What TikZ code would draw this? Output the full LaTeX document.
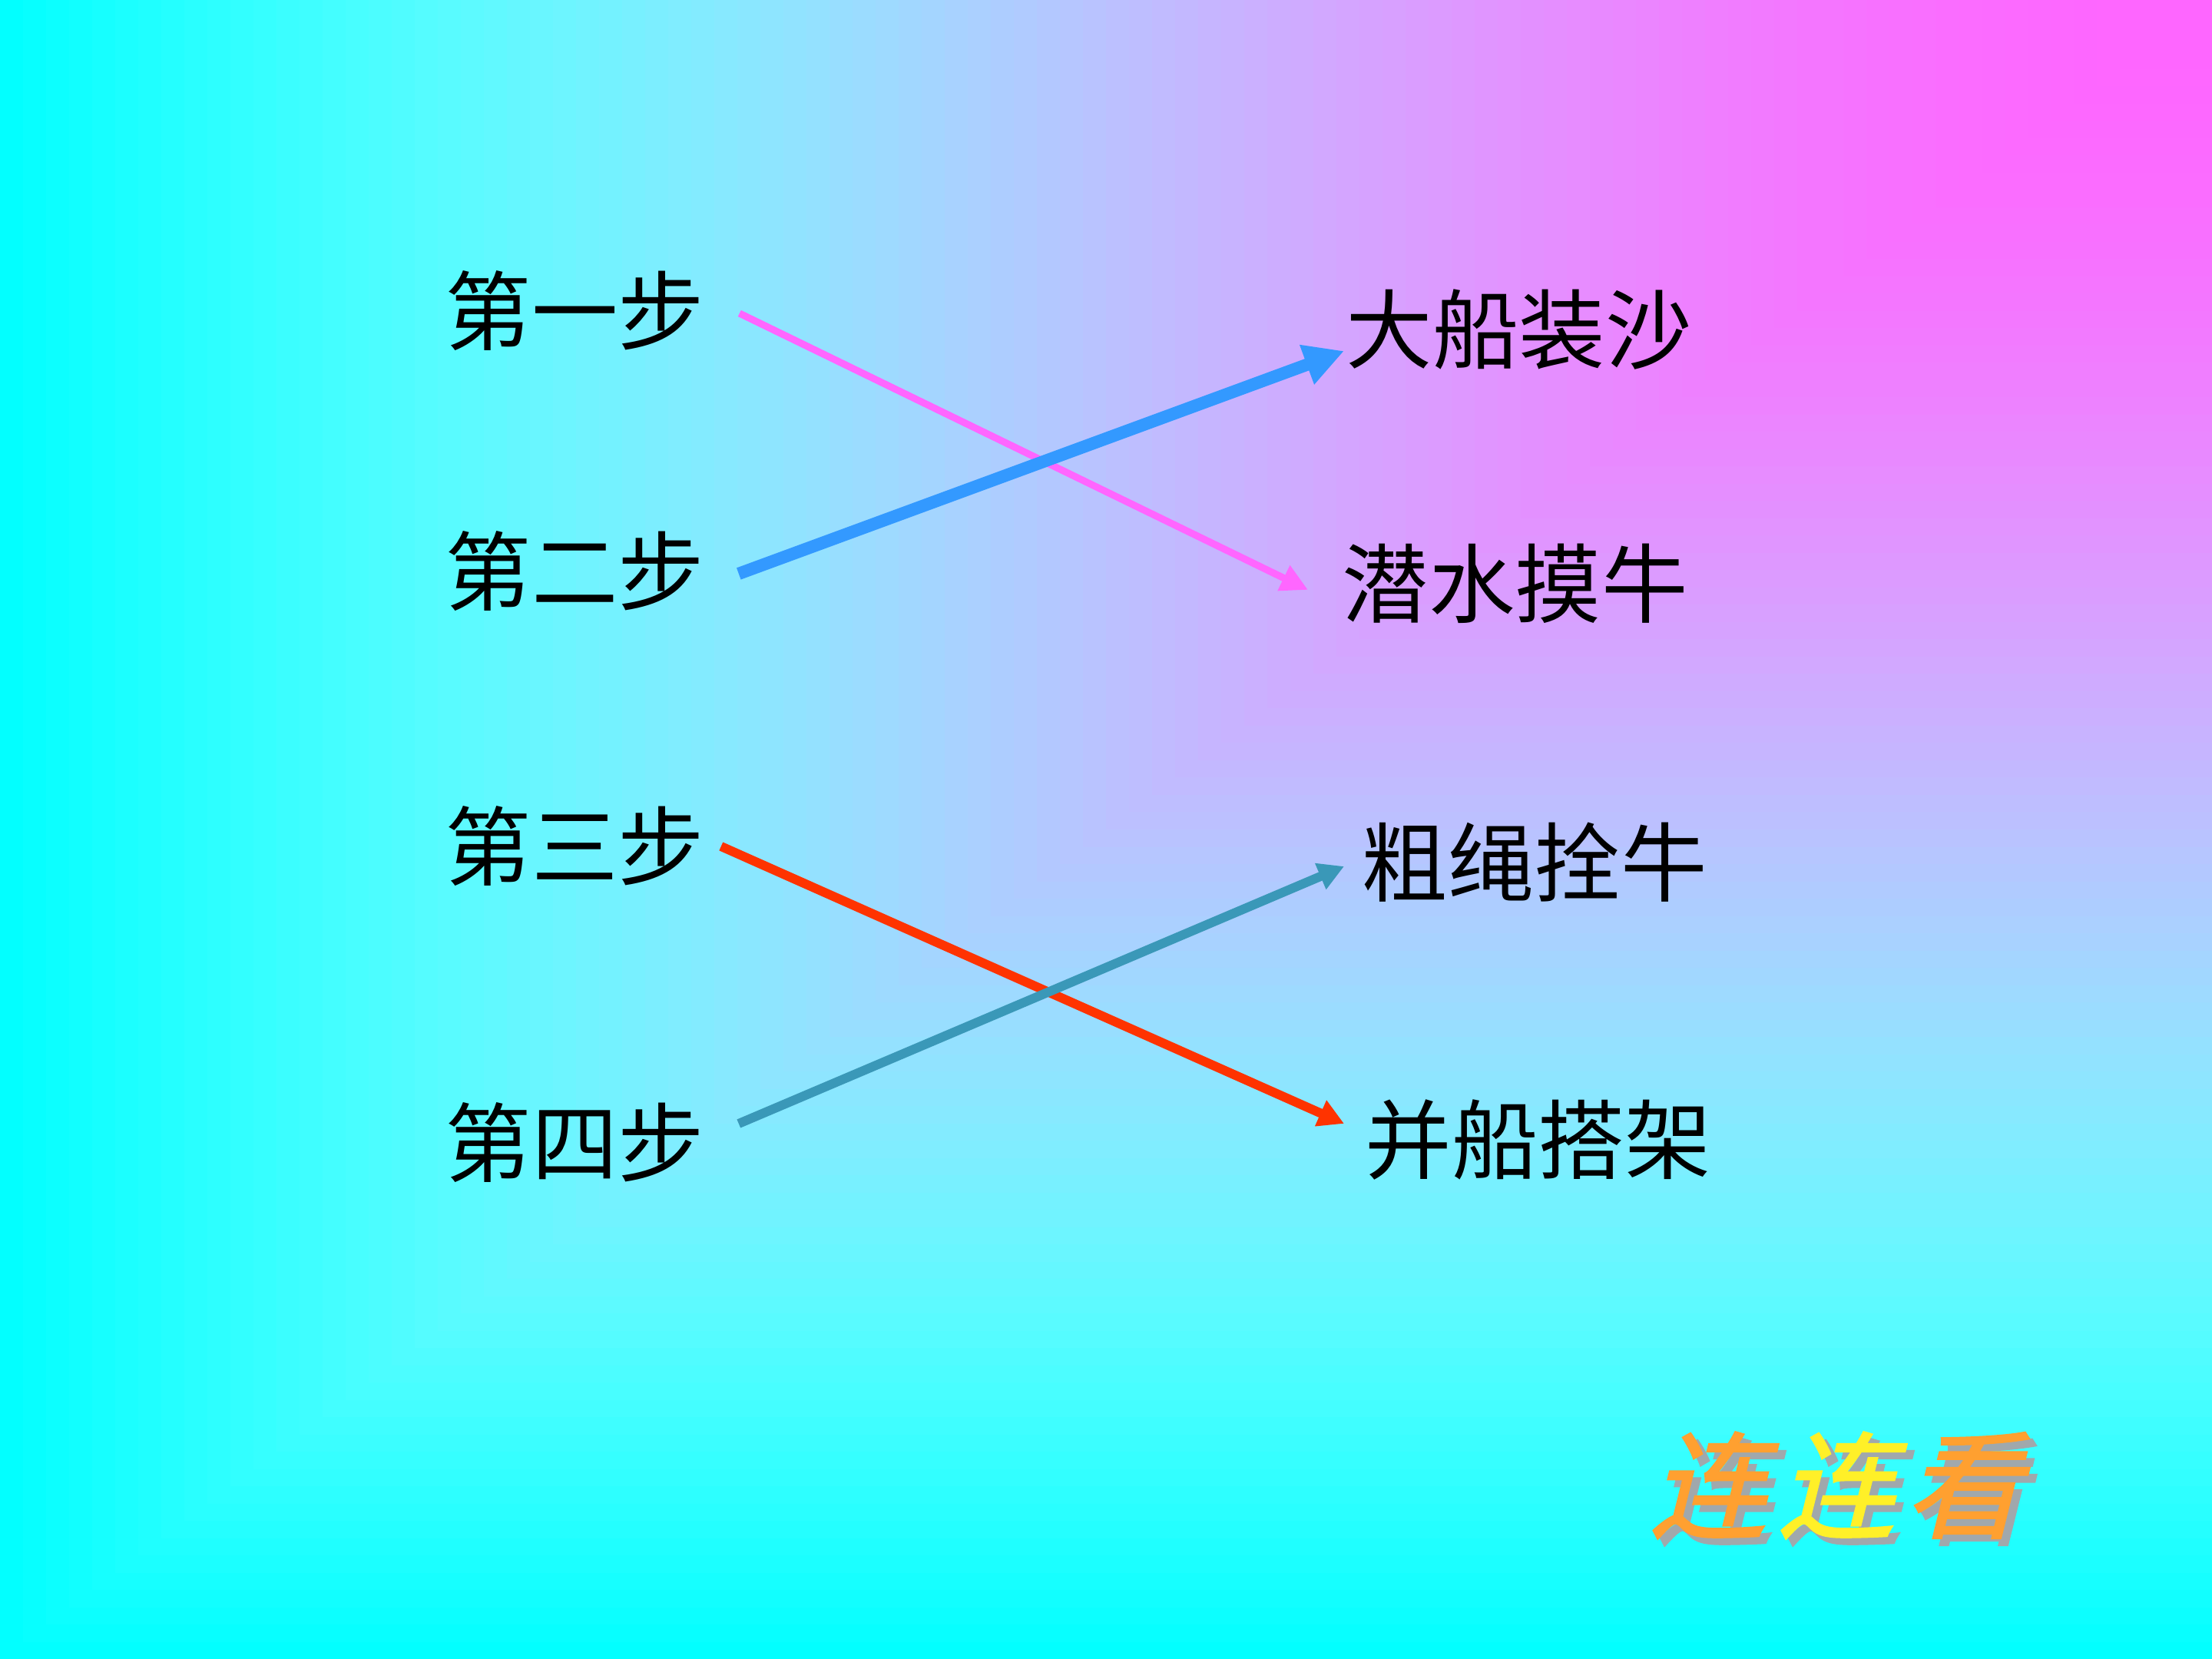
\documentclass[tikz,border=0pt]{standalone}
\usepackage{fontspec}
\usepackage{xcolor}
\usetikzlibrary{arrows.meta}
\newfontfamily\cjk{Noto Sans CJK SC}
\newfontfamily\cjkslant[FakeSlant=0.25,FakeBold=1.5]{Noto Sans CJK SC}
\newcommand{\lianfont}{\cjkslant\fontsize{43pt}{46pt}\selectfont}
\definecolor{bgcyan}{RGB}{0,255,255}
\definecolor{pinkline}{RGB}{255,102,255}
\definecolor{blueline}{RGB}{51,153,255}
\definecolor{redline}{RGB}{255,51,0}
\definecolor{tealline}{RGB}{58,152,184}
\definecolor{lianorange}{RGB}{255,160,48}
\definecolor{lianyellow}{RGB}{255,240,40}
\definecolor{shadowgray}{RGB}{160,168,172}
\tikzset{
  stage/.style={anchor=west,inner sep=0pt,font=\cjk\fontsize{32pt}{36pt}\selectfont},
  task/.style={stage},
  link/.style={line cap=butt},
  lianchar/.style={inner sep=0pt,font=\lianfont}
}
\begin{document}
\begin{tikzpicture}
  \useasboundingbox (0,0) rectangle (28.8,21.6);
  % background, fading out from the top right corner
  \fill[bgcyan] (0,0) rectangle (28.8,21.6);
  \foreach \i in {96,95,...,1} {
    \pgfmathsetmacro\bgt{(\i-0.5)/96}
    \pgfmathsetmacro\bgu{min(\bgt/0.88,1)}
    \pgfmathtruncatemacro\bgr{255*(1-\bgt^1.9)}
    \pgfmathtruncatemacro\bgg{102+153*(3*\bgu^2-2*\bgu^3)}
    \definecolor{band}{RGB}{\bgr,\bgg,255}
    \fill[band] ({28.8-0.3*\i},21.6) rectangle (28.8,{21.6-0.225*\i});
  }
  \foreach \name/\y/\txt in {l1/17.55/第一步, l2/14.16/第二步, l3/10.58/第三步, l4/6.72/第四步}
    \node[stage] (\name) at (5.79,\y) {\txt};
  \foreach \name/\x/\y/\txt in {r1/17.52/17.31/大船装沙, r2/17.47/14.00/潜水摸牛, r3/17.72/10.37/粗绳拴牛, r4/17.77/6.76/并船搭架}
    \node[task] (\name) at (\x,\y) {\txt};
  \draw[link,pinkline,line width=2.6pt,-{Triangle[length=10pt,width=9.8pt]}] ([shift={(0.45,-0.03)}]l1.east) -- ([shift={(-0.44,-0.08)}]r2.west);
  \draw[link,blueline,line width=4.6pt,-{Triangle[length=14.7pt,width=14.6pt]}] ([shift={(0.44,-0.03)}]l2.east) -- ([shift={(-0.02,-0.28)}]r1.west);
  \draw[link,redline,line width=3.4pt,-{Triangle[length=9.5pt,width=9.9pt]}] ([shift={(0.21,0)}]l3.east) -- ([shift={(-0.27,0.21)}]r4.west);
  \draw[link,tealline,line width=3.4pt,-{Triangle[length=9.5pt,width=9.9pt]}] ([shift={(0.44,0.25)}]l4.east) -- ([shift={(-0.22,-0.05)}]r3.west);
  % title, one character at a time, with its shadow
  \foreach \name/\x/\col/\txt in {t1/22.24/lianorange/连, t2/23.91/lianyellow/连, t3/25.56/lianorange/看} {
    \node[lianchar,text=shadowgray] (\name s) at (\x+0.09,2.17) {\txt};
    \node[lianchar,text=\col] (\name) at (\x,2.26) {\txt};
  }
\end{tikzpicture}
\end{document}
